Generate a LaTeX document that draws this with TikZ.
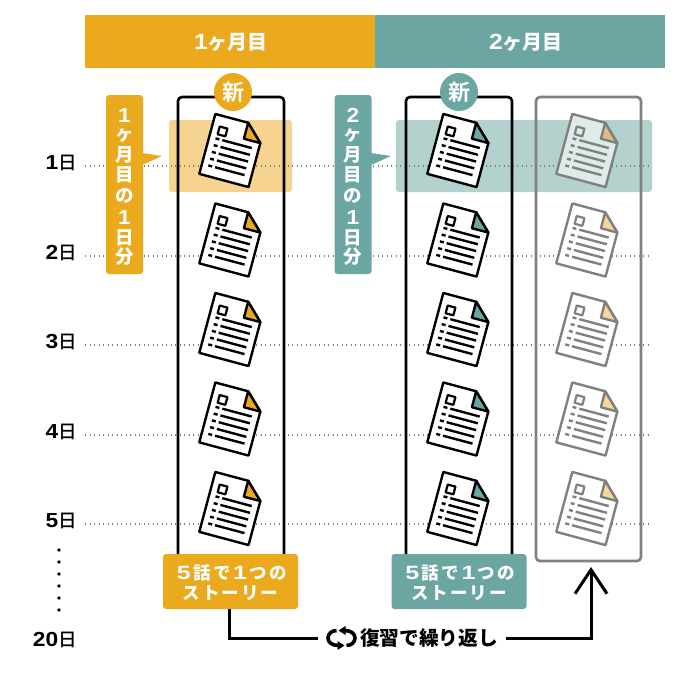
\documentclass[tikz,border=0pt]{standalone}
\usepackage{fontspec}
\usepackage{graphicx}
\setmainfont{Noto Sans CJK JP}[BoldFont=* Bold]
\newfontfamily\jpb{Noto Sans CJK JP Black}
\newfontfamily\jpm{Noto Sans CJK JP Bold}
\newfontfamily\jpd{Noto Sans CJK JP Medium}
\newfontfamily\jpsp{Noto Sans CJK JP Black}[LetterSpace=12]
\newfontfamily\latb{Liberation Sans Bold}[Scale=1.1]
\newcommand{\dgt}[1]{\scalebox{1.12}[1]{\latb #1}}
\newcommand{\sdg}[1]{\kern2.5pt\scalebox{1.3}[1]{\latb #1}\kern2.5pt}
\usetikzlibrary{arrows.meta}
\definecolor{orange1}{HTML}{EBA91E}
\definecolor{teal1}{HTML}{6CA6A2}
\definecolor{bandO}{HTML}{F6D38F}
\definecolor{bandT}{HTML}{B3D2CE}
\definecolor{ghost}{HTML}{808080}
\definecolor{ghostfold}{HTML}{F6D79A}
\definecolor{ghostfoldb}{HTML}{DDBE80}
\definecolor{ghostpaper}{HTML}{DFEBE9}
\tikzset{
  hdr/.style={anchor=center,text=white,font=\jpb\fontsize{20}{20}\selectfont},
  daylab/.style={anchor=east,font=\jpd\fontsize{18.5}{18.5}\selectfont,inner sep=0pt},
  dotline/.style={ghost,line width=1.3pt,dash pattern=on 1.3pt off 3.2pt},
  frameline/.style={line width=2.6pt,rounded corners=4pt},
  story/.style={rounded corners=3pt,minimum width=135pt,minimum height=55pt,inner sep=0pt},
  storytxt/.style={inner sep=0pt,text=white,align=center,font=\jpsp\fontsize{17.5}{20}\selectfont},
  vbox/.style={rounded corners=3pt,minimum width=37pt,minimum height=179pt,inner sep=0pt},
  vch/.style={text=white,inner sep=0pt,font=\jpb\fontsize{18.5}{18.5}\selectfont},
  newmark/.style={circle,minimum size=38pt,inner sep=0pt,text=white,font=\jpm\fontsize{22}{22}\selectfont},
  pics/docsheet/.style n args={3}{code={
    \begin{scope}[rotate=-15,line width=2.4pt,line join=round]
      \path[fill=#3,draw=#1] (-23.5,-31) -- (10.5,-31) -- (27.5,-14.5) -- (27.5,31) -- (-23.5,31) -- cycle;
      \path[fill=#2,draw=#1] (10.5,-31) -- (10.5,-14.5) -- (27.5,-14.5) -- cycle;
      \path[draw=#1,line width=2.2pt] (-16,-20) rectangle (-8,-12);
      \foreach \yy in {-7.5,-0.5,6.5,13.5,20.5}{
        \path[draw=#1,line width=2.4pt] (-17,\yy) -- (-13,\yy);
        \path[draw=#1,line width=2.4pt] (-10,\yy) -- (20.5,\yy);
      }
    \end{scope}
  }}
}
\begin{document}
\begin{tikzpicture}[x=1pt,y=-1pt]
\useasboundingbox (0,0) rectangle (680,680);
\fill[white] (0,0) rectangle (680,680);
% headers
\node[fill=orange1,minimum width=290pt,minimum height=53pt,inner sep=0pt] (h1) at (230,41.5) {};
\node[fill=teal1,minimum width=290pt,minimum height=53pt,inner sep=0pt] (h2) at (520,41.5) {};
\node[hdr] (h1t) at (231,42) {\dgt{1}ヶ月目};
\node[hdr] (h2t) at (526,42) {\dgt{2}ヶ月目};
% bands
\fill[bandO,rounded corners=3pt] (169,120) rectangle (292,192);
\fill[bandT,rounded corners=3pt] (396,120) rectangle (652,192);
% day lines
\foreach \yy/\lab in {166/1,256/2,345/3,435/4,524/5}{
  \draw[dotline] (85,\yy) -- (650,\yy);
  \node[daylab] at (77,\yy-3.5) {\dgt{\lab}日};
}
\node[daylab] (d20) at (77,640) {\dgt{20}日};
\foreach \yy in {550,562,574,586,598,610}
  \fill (59,\yy) circle (1.9);
% frames
\draw[frameline] (178,97) rectangle (284,560);
\draw[frameline] (406,97) rectangle (512,560);
\draw[frameline,ghost] (536,97) rectangle (641,561);
\node[fill=orange1,newmark] (n1) at (233,92) {新};
\node[fill=teal1,newmark] (n2) at (459,92) {新};
% docs
\foreach \yy in {150,239.5,329,418.5,508}{
  \pic at (230,\yy) {docsheet={black}{orange1}{white}};
  \pic at (458,\yy) {docsheet={black}{teal1}{white}};
}
\pic at (587,150) {docsheet={ghost}{ghostfoldb}{ghostpaper}};
\foreach \yy in {239.5,329,418.5,508}
  \pic at (587,\yy) {docsheet={ghost}{ghostfold}{white}};
% vertical labels
\node[vbox,fill=orange1] (v1) at (124.5,184.5) {};
\fill[orange1] (142,153) -- (162,156) -- (142,165) -- cycle;
\node[vbox,fill=teal1] (v2) at (353,184.5) {};
\fill[teal1] (371,153) -- (391,156) -- (371,165) -- cycle;
\foreach \xx/\cc in {124.5/1,353/2}{
  \node[vch] at (\xx,115) {\dgt{\cc}};
  \node[vch] at (\xx,136) {ヶ};
  \node[vch] at (\xx,155) {月};
  \node[vch] at (\xx,175) {目};
  \node[vch] at (\xx,196) {の};
  \node[vch] at (\xx,217) {\dgt{1}};
  \node[vch] at (\xx,238) {日};
  \node[vch] at (\xx,257) {分};
}
% story boxes
\node[story,fill=orange1] (s1) at (230.5,581.5) {};
\node[story,fill=teal1] (s2) at (459,581.5) {};
\node[storytxt] (s1t) at (230.5,583) {\sdg{5}話で\sdg{1}つの\\ストーリー};
\node[storytxt] (s2t) at (459,583) {\sdg{5}話で\sdg{1}つの\\ストーリー};
% loop label
\node[minimum width=46pt,minimum height=24pt,inner sep=0pt] (icon) at (341,638) {};
\begin{scope}[shift={(341.5,638)},line width=3.6pt]
  \draw (-5,-7.5) .. controls (-10,-7.5) and (-13.5,-4) .. (-13.5,0) .. controls (-13.5,4) and (-10,7.5) .. (-3,7.5);
  \draw (5,7.5) .. controls (10,7.5) and (13.5,4) .. (13.5,0) .. controls (13.5,-4) and (10,-7.5) .. (3,-7.5);
  \fill (-3,-7.5) -- (4,-12) -- (4,-3) -- cycle;
  \fill (3,7.5) -- (-4,12) -- (-4,3) -- cycle;
\end{scope}
\node[inner sep=0pt,font=\jpb\fontsize{19.7}{19.7}\selectfont] (looptxt) at (429,638) {復習で繰り返し};
\coordinate (target) at (591,567);
\draw[line width=3pt] ([xshift=-1.5pt]s1.south) |- (icon.west);
\draw[line width=3pt,line join=miter,-{Straight Barb[length=24pt,width=32pt,line width=3pt]}] ([xshift=8pt]looptxt.east) -| (target);
\end{tikzpicture}
\end{document}
